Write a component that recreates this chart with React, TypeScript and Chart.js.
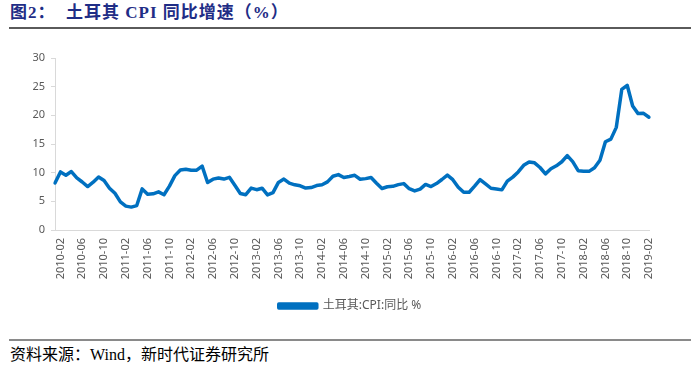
import React, { useEffect, useRef } from "react";
import { Chart, registerables } from "chart.js";

Chart.register(...registerables);

const SERIES_NAME = "土耳其:CPI:同比 %";
const START_YEAR = 2010;
const START_MONTH = 1;

const cpiValues: number[] = [
  // 2010
  8.19, 10.13, 9.56, 10.19, 9.1, 8.37, 7.58, 8.33, 9.24, 8.62, 7.29, 6.4,
  // 2011
  4.9, 4.16, 3.99, 4.26, 7.17, 6.24, 6.31, 6.65, 6.15, 7.66, 9.48, 10.45,
  // 2012
  10.61, 10.43, 10.43, 11.14, 8.28, 8.87, 9.07, 8.88, 9.19, 7.8, 6.37, 6.16,
  // 2013
  7.31, 7.03, 7.29, 6.13, 6.51, 8.3, 8.88, 8.17, 7.88, 7.71, 7.32, 7.4,
  // 2014
  7.75, 7.89, 8.39, 9.38, 9.66, 9.16, 9.32, 9.54, 8.86, 8.96, 9.15, 8.17,
  // 2015
  7.24, 7.55, 7.61, 7.91, 8.09, 7.2, 6.81, 7.14, 7.95, 7.58, 8.1, 8.81,
  // 2016
  9.58, 8.78, 7.46, 6.57, 6.58, 7.64, 8.79, 8.05, 7.28, 7.16, 7.0, 8.53,
  // 2017
  9.22, 10.13, 11.29, 11.87, 11.72, 10.9, 9.79, 10.68, 11.2, 11.9, 12.98, 11.92,
  // 2018
  10.35, 10.26, 10.23, 10.85, 12.15, 15.39, 15.85, 17.9, 24.52, 25.24, 21.62, 20.3,
  // 2019
  20.35, 19.67,
];

const monthLabels: string[] = cpiValues.map((_, i) => {
  const m = START_MONTH - 1 + i;
  const y = START_YEAR + Math.floor(m / 12);
  const mm = (m % 12) + 1;
  return `${y}-${mm < 10 ? "0" + mm : mm}`;
});

const yTicks = { min: 0, max: 30, step: 5 };

const BLUE = "#0070C0";
const AXIS_GRAY = "#D9D9D9";
const TEXT_GRAY = "#595959";

export default function App() {
  const canvasRef = useRef<HTMLCanvasElement | null>(null);

  useEffect(() => {
    if (!canvasRef.current) return;
    const chart = new Chart(canvasRef.current, {
      type: "line",
      data: {
        labels: monthLabels,
        datasets: [
          {
            label: SERIES_NAME,
            data: cpiValues,
            borderColor: BLUE,
            backgroundColor: BLUE,
            borderWidth: 3.5,
            pointRadius: 0,
            tension: 0,
            borderJoinStyle: "round",
            borderCapStyle: "round",
            yAxisID: "y",
          },
        ],
      },
      options: {
        responsive: false,
        animation: false,
        layout: { padding: { top: 18, right: 0, bottom: 8, left: 0 } },
        plugins: {
          tooltip: { enabled: false },
          legend: {
            display: true,
            position: "bottom",
            labels: {
              boxWidth: 38,
              boxHeight: 4,
              padding: 10,
              color: TEXT_GRAY,
              font: { family: "'Noto Sans', 'Noto Sans CJK SC'", size: 12 },
            },
          },
        },
        scales: {
          x: {
            type: "category",
            offset: false,
            grid: { display: false, drawTicks: false },
            border: { display: true, color: AXIS_GRAY, width: 1 },
            ticks: {
              autoSkip: false,
              minRotation: 90,
              maxRotation: 90,
              padding: 8,
              color: TEXT_GRAY,
              font: { family: "'Noto Sans'", size: 11 },
              callback: (_v: any, idx: number) =>
                idx % 4 === 1 ? monthLabels[idx] : "",
            },
            afterFit: (scale: any) => {
              scale.height = 60;
            },
          },
          y: {
            min: yTicks.min,
            max: yTicks.max,
            grid: {
              display: true,
              drawOnChartArea: false,
              drawTicks: true,
              tickLength: 4,
              color: AXIS_GRAY,
            },
            border: { display: true, color: AXIS_GRAY, width: 1 },
            ticks: {
              stepSize: yTicks.step,
              padding: 6,
              color: TEXT_GRAY,
              font: { family: "'Noto Sans'", size: 11 },
            },
            afterFit: (scale: any) => {
              scale.width = 55;
            },
          },
          spacer: {
            type: "linear",
            position: "right",
            display: true,
            min: yTicks.min,
            max: yTicks.max,
            grid: { display: false, drawTicks: false },
            border: { display: false },
            ticks: { display: false },
            afterFit: (scale: any) => {
              scale.width = 51;
            },
          },
        },
      },
    });
    return () => chart.destroy();
  }, []);

  return (
    <div
      style={{
        position: "absolute",
        left: 0,
        top: 0,
        width: 700,
        height: 370,
        background: "#fff",
        overflow: "hidden",
      }}
    >
      <div
        style={{
          position: "absolute",
          left: 10,
          top: 3,
          fontFamily: "'Liberation Serif', 'Noto Sans CJK SC', serif",
          fontWeight: "bold",
          fontSize: 17,
          letterSpacing: 1,
          color: "#1F2D86",
          whiteSpace: "pre",
          lineHeight: "20px",
        }}
      >
        {"图2：  土耳其 CPI 同比增速（%）"}
      </div>
      <div
        style={{
          position: "absolute",
          left: 9,
          top: 27,
          width: 682,
          height: 2,
          background: "#5A5A5A",
        }}
      />
      <div style={{ position: "absolute", left: 0, top: 40, width: 700, height: 290 }}>
        <canvas ref={canvasRef} width={700} height={290} />
      </div>
      <div
        style={{
          position: "absolute",
          left: 9,
          top: 339,
          width: 682,
          height: 2,
          background: "#8A8A8A",
        }}
      />
      <div
        style={{
          position: "absolute",
          left: 10,
          top: 345,
          fontFamily: "'Liberation Serif', 'Noto Sans CJK SC', serif",
          fontSize: 16,
          color: "#000",
          whiteSpace: "pre",
          lineHeight: "20px",
        }}
      >
        {"资料来源：Wind，新时代证券研究所"}
      </div>
    </div>
  );
}
